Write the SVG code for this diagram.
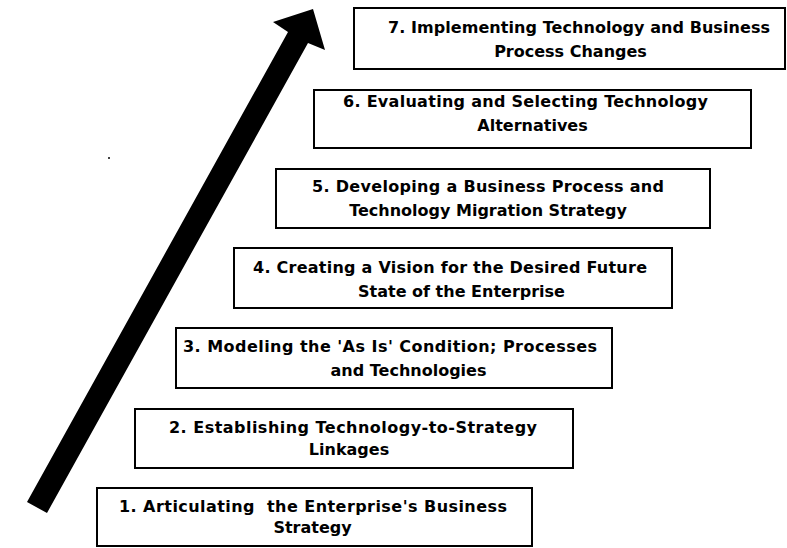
<svg xmlns="http://www.w3.org/2000/svg" width="787" height="548" viewBox="0 0 787 548">
<style>
.box{fill:#fff;stroke:#000;stroke-width:2}
.t{font-family:"DejaVu Sans",Verdana,sans-serif;font-weight:bold;font-size:16px;fill:#000;text-anchor:middle}
</style>
<rect x="0" y="0" width="787" height="548" fill="#fff"/>
<g id="connectors">
<polygon points="27,502 288,32 273,22 313,9 325,50 308,43 47,513" fill="#000"/>
</g>
<rect x="108" y="157" width="2" height="2" fill="#444"/>
<g id="step1">
<rect class="box" x="97" y="488" width="435" height="58"/>
<text class="t" x="313" y="512" textLength="388" lengthAdjust="spacing" xml:space="preserve">1. Articulating  the Enterprise's Business</text>
<text class="t" x="312.5" y="533">Strategy</text>
</g>
<g id="step2">
<rect class="box" x="135" y="409" width="438" height="59"/>
<text class="t" x="353" y="433" textLength="368" lengthAdjust="spacing">2. Establishing Technology-to-Strategy</text>
<text class="t" x="349" y="455">Linkages</text>
</g>
<g id="step3">
<rect class="box" x="176" y="328" width="436" height="60"/>
<text class="t" x="390" y="352" textLength="414" lengthAdjust="spacing">3. Modeling the 'As Is' Condition; Processes</text>
<text class="t" x="408.5" y="376">and Technologies</text>
</g>
<g id="step4">
<rect class="box" x="234" y="248" width="438" height="60"/>
<text class="t" x="450" y="273" textLength="394" lengthAdjust="spacing">4. Creating a Vision for the Desired Future</text>
<text class="t" x="461.5" y="297">State of the Enterprise</text>
</g>
<g id="step5">
<rect class="box" x="276" y="169" width="434" height="59"/>
<text class="t" x="488" y="192" textLength="352" lengthAdjust="spacing">5. Developing a Business Process and</text>
<text class="t" x="488" y="216">Technology Migration Strategy</text>
</g>
<g id="step6">
<rect class="box" x="314" y="90" width="437" height="58"/>
<text class="t" x="525.5" y="107" textLength="365" lengthAdjust="spacing">6. Evaluating and Selecting Technology</text>
<text class="t" x="532.5" y="131">Alternatives</text>
</g>
<g id="step7">
<rect class="box" x="354" y="8" width="431" height="61"/>
<text class="t" x="579" y="33" textLength="382" lengthAdjust="spacing">7. Implementing Technology and Business</text>
<text class="t" x="570.5" y="57">Process Changes</text>
</g>
</svg>
